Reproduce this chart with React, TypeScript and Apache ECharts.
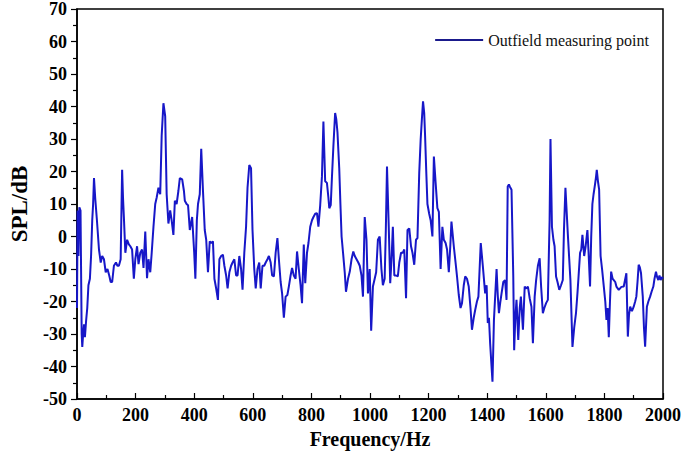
import React, { useEffect, useRef } from "react";
import * as echarts from "echarts";

const freq = [
  0, 2, 5, 8, 12, 16, 18, 21, 24, 27, 31, 35, 39, 44, 48, 52, 55, 58, 62, 68,
  75, 81, 86, 92, 98, 104, 110, 115, 120, 126, 133, 138, 143, 149, 154, 157, 160, 165, 171, 177,
  182, 188, 194, 199, 205, 210, 216, 222, 227, 233, 239, 244, 250, 255, 261, 267, 272, 278, 284, 289,
  295, 301, 306, 312, 318, 323, 329, 334, 340, 346, 351, 359, 365, 368, 374, 379, 385, 393, 400, 404,
  409, 413, 419, 424, 430, 436, 441, 447, 453, 459, 464, 469, 475, 481, 486, 492, 498, 503, 509, 514,
  520, 526, 531, 537, 543, 548, 554, 560, 565, 571, 577, 582, 588, 594, 599, 605, 610, 616, 622, 627,
  633, 639, 644, 650, 655, 661, 666, 672, 678, 684, 689, 695, 700, 706, 712, 718, 723, 729, 734, 740,
  746, 751, 757, 763, 768, 774, 779, 785, 790, 796, 802, 807, 813, 819, 824, 830, 836, 841, 847, 853,
  858, 861, 866, 870, 875, 881, 885, 889, 895, 899, 903, 908, 914, 918, 925, 931, 937, 943, 948, 954,
  960, 965, 971, 976, 982, 988, 993, 999, 1004, 1010, 1016, 1021, 1027, 1033, 1039, 1044, 1050, 1054, 1058, 1064,
  1069, 1074, 1078, 1083, 1089, 1095, 1100, 1106, 1112, 1117, 1123, 1128, 1134, 1140, 1145, 1151, 1157, 1162, 1168, 1173,
  1177, 1181, 1185, 1188, 1192, 1196, 1202, 1207, 1213, 1218, 1224, 1230, 1235, 1241, 1247, 1252, 1258, 1263, 1269, 1274,
  1278, 1286, 1292, 1297, 1303, 1309, 1314, 1320, 1325, 1331, 1337, 1343, 1348, 1354, 1359, 1365, 1370, 1378, 1385, 1393,
  1398, 1402, 1406, 1410, 1418, 1423, 1428, 1432, 1436, 1440, 1445, 1449, 1455, 1461, 1466, 1470, 1474, 1477, 1483, 1489,
  1492, 1496, 1500, 1506, 1511, 1515, 1522, 1528, 1534, 1539, 1545, 1551, 1556, 1562, 1567, 1573, 1579, 1584, 1590, 1595,
  1601, 1607, 1613, 1616, 1621, 1626, 1630, 1635, 1640, 1646, 1652, 1658, 1662, 1667, 1671, 1675, 1680, 1684, 1691, 1697,
  1703, 1708, 1712, 1717, 1721, 1725, 1731, 1736, 1742, 1746, 1751, 1755, 1759, 1763, 1767, 1771, 1774, 1778, 1782, 1787,
  1792, 1798, 1803, 1807, 1811, 1815, 1819, 1823, 1828, 1832, 1837, 1841, 1849, 1858, 1866, 1875, 1880, 1884, 1888, 1894,
  1900, 1905, 1909, 1913, 1917, 1921, 1925, 1931, 1935, 1939, 1945, 1950, 1956, 1961, 1967, 1971, 1976, 1980, 1984, 1988,
  1992, 1996, 2000,
];

const spl = [
  -22, 8, -6, 9, 8, -30, -34, -30, -27, -31, -26, -22, -15, -13, -6, 5, 10, 18, 12, 5,
  -4, -8, -6, -7, -11, -10, -12, -14, -14, -9, -8, -9, -9, -7, 20.5, 12, 6, -5, -1, -2.4,
  -3, -4, -13, -7, -3, -8.5, -5, -4, -9.7, 1.5, -12.8, -7, -11, -5, 3, 10, 12, 15, 13, 31,
  41, 37, 13, 4, 8, 5, 0.5, 11, 10, 14, 18, 17.6, 14, 11, 10, 9.6, 2, 6, -5, -13,
  5, 10, 13, 27, 14, 2, -1, -11, -1.5, -2, -1.5, -13, -16, -19.5, -7, -6, -5.6, -9, -12, -16,
  -11, -9, -8, -7, -12, -12, -6, -10, -16.4, -5, 3, 15, 22, 21, 2, -10, -16, -10, -8, -16,
  -9, -9, -8, -7, -6, -8, -12, -12.3, -5, -0.5, -7, -14, -17.5, -25, -18.5, -18, -15.4, -12, -9.7, -12,
  -13, -4.6, -10, -15, -20.5, -2.5, -14.4, -5, -2, 3, 5, 6, 7, 7.2, 3, 9.6, 18.5, 35.4, 17, 16.5,
  12, 8.7, 9.7, 18, 27.7, 38, 36, 32, 21, 10, 0, -5, -11.3, -17, -13, -10.8, -7, -4.6, -6, -7,
  -8, -9, -12, -18.5, 6, -1, -17.5, -10, -29, -15.4, -13, -11, -1, 0, -10, -15, -13, 2, 21.5, 3,
  -14.4, -6, 3, -12, -12, -12.3, -8, -5, -5, -4, -19, 2, 2.5, -3, -5, -8.7, -1, -0.5, 19.5, 30,
  36, 41.6, 38, 31, 20, 10, 7, 5, 0, 24.6, 16.5, 8.7, 7.6, -10, 3, -1, -2, -4, -11, -3,
  4.6, -3, -8, -12.3, -18, -22, -20.5, -15, -12.3, -13, -15.4, -22, -28.7, -25, -22.6, -20, -18.5, -2, -9, -17.5,
  -15, -26.6, -25, -32.8, -44.7, -25.7, -17, -10, -18, -23.6, -20, -17.5, -14, -13.4, -19.5, 15.4, 16, 15.4, 14.4, -12.3,
  -35, -25, -19.5, -31.8, -22, -18.5, -28.7, -15.4, -16, -15.4, -19, -21.6, -32.8, -18.5, -13.4, -9, -6.7, -15.4, -23.6, -22,
  -20.5, -19.5, 5, 30, 3, -1, -3, -12.3, -14, -16.4, -15, -13.4, 2, 15, 8, 1, -7, -13.4, -34, -28,
  -23.6, -17.5, -12, -5, -4, 0.5, -6, -3, 2, -5, -15.4, 0, 10, 13, 15.4, 18, 20.5, 17, 14.4, -6,
  -10, -15.4, -20, -25.7, -22, -31, -20, -10.8, -13, -13.4, -14, -15.4, -16.4, -15.5, -15.4, -11.3, -30.8, -24, -21.6, -23,
  -21.6, -20, -18.5, -14, -8.7, -9.5, -11.3, -18.5, -28, -33.9, -21.6, -20, -18.5, -17, -15.4, -13, -10.8, -12.5, -13.4, -12,
  -13.4, -12.5, -13,
];

const seriesName = "Outfield measuring point";
const xTitle = "Frequency/Hz";
const yTitle = "SPL/dB";

const FONT = "'Liberation Serif', 'Times New Roman', serif";

export default function App() {
  const ref = useRef<HTMLDivElement>(null);
  useEffect(() => {
    if (!ref.current) return;
    const chart = echarts.init(ref.current, undefined, { renderer: "svg" });
    const data = freq.map((f, i) => [f, spl[i]]);
    chart.setOption({
      animation: false,
      backgroundColor: "#fff",
      grid: {
        left: 71,
        right: 22,
        top: 9,
        bottom: 55,
        show: true,
        borderColor: "#000",
        borderWidth: 1.5,
        backgroundColor: "transparent",
      },
      legend: {
        top: 27,
        right: 31,
        icon: "rect",
        itemWidth: 48,
        itemHeight: 2,
        itemGap: 8,
        textStyle: { fontFamily: FONT, fontSize: 16, color: "#111" },
        data: [{ name: seriesName, itemStyle: { color: "#1a1a8c" } }],
      },
      xAxis: {
        type: "value",
        min: 0,
        max: 2000,
        interval: 200,
        name: xTitle,
        nameLocation: "middle",
        nameGap: 30,
        nameTextStyle: { fontFamily: FONT, fontSize: 20, fontWeight: 700, color: "#000" },
        axisLine: { show: true, onZero: false, lineStyle: { color: "#000", width: 1.5 } },
        axisTick: { show: true, inside: true, length: 6, lineStyle: { color: "#000", width: 1.2 } },
        minorTick: { show: true, splitNumber: 2, length: 4, lineStyle: { color: "#000", width: 1.2 } },
        axisLabel: {
          fontFamily: FONT,
          fontSize: 18,
          fontWeight: 700,
          color: "#000",
          margin: 7,
          formatter: (v: number) => String(v),
        },
        splitLine: { show: false },
      },
      yAxis: {
        type: "value",
        min: -50,
        max: 70,
        interval: 10,
        name: yTitle,
        nameLocation: "middle",
        nameGap: 46,
        nameRotate: 90,
        nameTextStyle: { fontFamily: FONT, fontSize: 23, fontWeight: 700, color: "#000" },
        axisLine: { show: true, onZero: false, lineStyle: { color: "#000", width: 1.5 } },
        axisTick: { show: true, inside: false, length: 6, lineStyle: { color: "#000", width: 1.2 } },
        minorTick: { show: true, splitNumber: 2, length: 4, lineStyle: { color: "#000", width: 1.2 } },
        axisLabel: {
          fontFamily: FONT,
          fontSize: 18,
          fontWeight: 700,
          color: "#000",
          margin: 10,
          formatter: (v: number) => String(v),
        },
        splitLine: { show: false },
      },
      series: [
        {
          name: seriesName,
          type: "line",
          data,
          showSymbol: false,
          symbol: "none",
          smooth: false,
          lineStyle: { color: "#1717c8", width: 2 },
          itemStyle: { color: "#1717c8" },
        },
      ],
    });
    return () => chart.dispose();
  }, []);
  return <div ref={ref} style={{ width: 685, height: 454, position: "absolute", left: 0, top: 0 }} />;
}
